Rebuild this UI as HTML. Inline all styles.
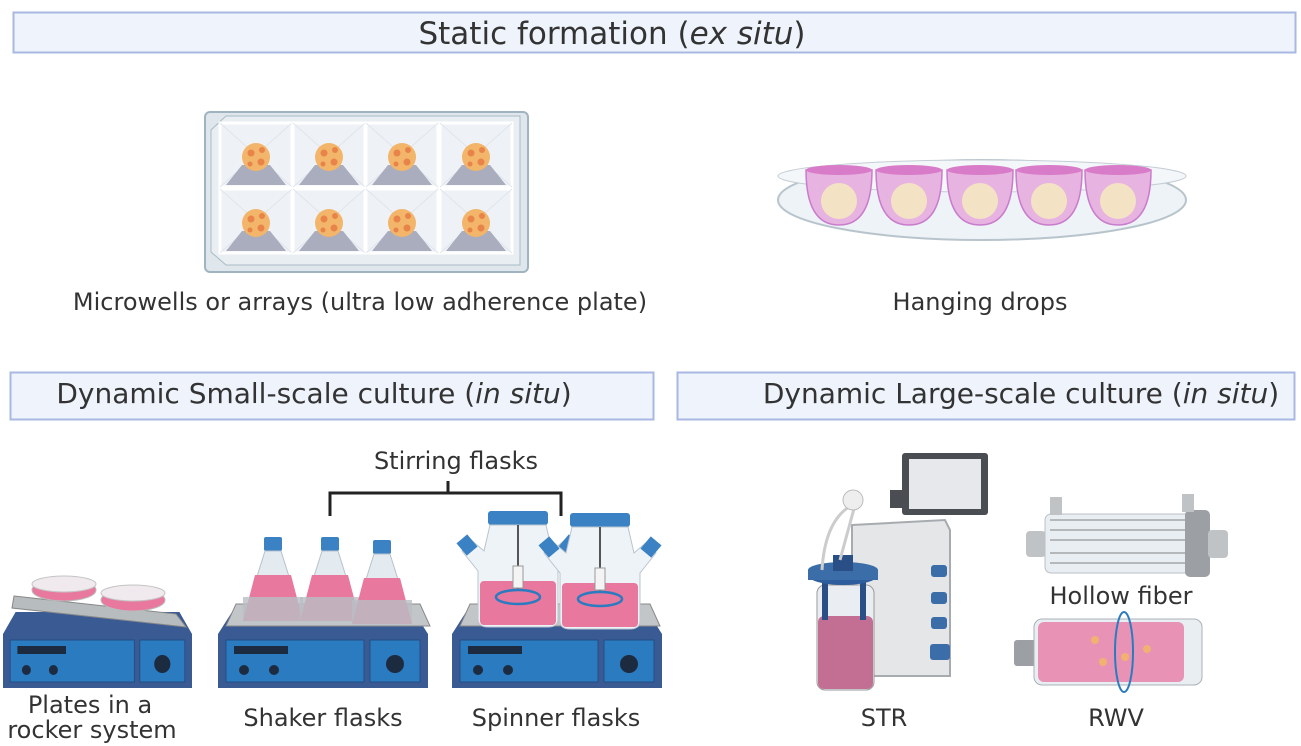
<!DOCTYPE html>
<html><head><meta charset="utf-8"><style>
html,body{margin:0;padding:0;background:#fff;}
svg{display:block;font-family:"DejaVu Sans","Liberation Sans",sans-serif;}
</style></head><body>
<svg width="1301" height="746" viewBox="0 0 1301 746" xmlns="http://www.w3.org/2000/svg">
<defs>
<g id="sph"><circle r="14" fill="#f2b56a"/><circle cx="-5" cy="-4" r="3.5" fill="#e8844a"/><circle cx="6" cy="-7" r="3" fill="#e8844a"/><circle cx="5" cy="5" r="3.5" fill="#e8844a"/><circle cx="-6" cy="7" r="2.5" fill="#e8844a"/></g>
<g id="well"><rect x="0" y="0" width="72" height="64" fill="#eef2f6" stroke="#fff" stroke-width="3"/><path d="M0 0 L36 32 L72 0 M0 64 L36 32 L72 64" stroke="#dfe5ec" fill="none"/><polygon points="6,62 66,62 50,42 22,42" fill="#a9adbd"/><use href="#sph" x="36" y="34"/></g>
<g id="hot">
<polygon points="14,0 196,0 210,22 0,22" fill="#3a5a94"/>
<rect x="0" y="22" width="210" height="54" fill="#3a5a94"/>
<rect x="8" y="28" width="138" height="42" fill="#2a7bbf" stroke="#244d85"/>
<rect x="152" y="28" width="50" height="42" fill="#2a7bbf" stroke="#244d85"/>
<rect x="16" y="34" width="54" height="8" fill="#1d2b40"/>
<circle cx="26" cy="58" r="5" fill="#1d2b40"/><circle cx="56" cy="58" r="5" fill="#1d2b40"/><circle cx="177" cy="52" r="9" fill="#1d2b40"/>
</g>
<g id="ef"><rect x="-9" y="0" width="18" height="14" rx="2" fill="#3a82c4"/><polygon points="-8,14 8,14 30,84 -30,84" fill="#e3eaf0" stroke="#b7c2cc"/><polygon points="-18,38 18,38 30,84 -30,84" fill="#e8789e"/><rect x="-30" y="60" width="60" height="24" fill="#b9bec4" opacity=".8"/></g>
<g id="sp"><rect x="-30" y="0" width="60" height="14" rx="3" fill="#3a82c4"/><path d="M-28 14 L28 14 L34 40 L48 28 L56 40 L40 60 L40 108 Q40 116 30 116 L-30 116 Q-40 116 -40 108 L-40 60 L-56 40 L-48 28 L-34 40 Z" fill="#eef3f8" stroke="#b9c4ce"/><rect x="-38" y="70" width="76" height="44" rx="4" fill="#e8789e"/><line x1="0" y1="14" x2="0" y2="80" stroke="#555" stroke-width="2"/><rect x="-5" y="55" width="10" height="22" fill="#f4f4f4" stroke="#999"/><ellipse cx="0" cy="86" rx="22" ry="7" fill="none" stroke="#2a7bbf" stroke-width="2.5"/><rect x="-58" y="26" width="14" height="16" fill="#3a82c4" transform="rotate(-40 -51 34)"/><rect x="44" y="26" width="14" height="16" fill="#3a82c4" transform="rotate(40 51 34)"/></g>
</defs>

<!-- headers -->
<rect x="13.5" y="12.5" width="1282" height="40" fill="#eef3fc" stroke="#a9b8e2" stroke-width="2"/>
<text x="612" y="44" font-size="31" fill="#333" text-anchor="middle">Static formation (<tspan font-style="italic">ex situ</tspan>)</text>
<rect x="10.5" y="372.5" width="643" height="47" fill="#eef3fc" stroke="#a9b8e2" stroke-width="2"/>
<text x="314" y="403" font-size="28" fill="#333" text-anchor="middle">Dynamic Small-scale culture (<tspan font-style="italic">in situ</tspan>)</text>
<rect x="677.5" y="372.5" width="617" height="47" fill="#eef3fc" stroke="#a9b8e2" stroke-width="2"/>
<text x="1021" y="403" font-size="28" fill="#333" text-anchor="middle">Dynamic Large-scale culture (<tspan font-style="italic">in situ</tspan>)</text>

<!-- microwell plate -->
<rect x="205" y="112" width="323" height="160" rx="5" fill="#dfe6ec" stroke="#9fb4c0" stroke-width="2"/>
<path d="M226 116 L520 116 L520 265 L226 265 L211 252 L211 130 Z" fill="#e8eef2" stroke="#a8bcc6"/>
<use href="#well" x="220" y="123"/><use href="#well" x="293" y="123"/><use href="#well" x="366" y="123"/><use href="#well" x="440" y="123"/>
<use href="#well" x="220" y="189"/><use href="#well" x="293" y="189"/><use href="#well" x="366" y="189"/><use href="#well" x="440" y="189"/>
<text x="360" y="310" font-size="24" fill="#333" text-anchor="middle">Microwells or arrays (ultra low adherence plate)</text>

<!-- hanging drops -->
<ellipse cx="982" cy="200" rx="204" ry="40" fill="#eef3f7" stroke="#b8c4cc" stroke-width="2"/>
<ellipse cx="982" cy="176" rx="204" ry="16" fill="#f4f7fa" stroke="#c4cdd4"/>
<g fill="#e7b3e0" stroke="#c97ccc" stroke-width="1.5">
<path d="M806 170 L872 170 Q872 225 839 225 Q806 225 806 170Z"/>
<path d="M876 170 L942 170 Q942 225 909 225 Q876 225 876 170Z"/>
<path d="M947 170 L1013 170 Q1013 225 980 225 Q947 225 947 170Z"/>
<path d="M1016 170 L1082 170 Q1082 225 1049 225 Q1016 225 1016 170Z"/>
<path d="M1085 170 L1151 170 Q1151 225 1118 225 Q1085 225 1085 170Z"/>
</g>
<g fill="#d87bc8"><ellipse cx="839" cy="170" rx="33" ry="5"/><ellipse cx="909" cy="170" rx="33" ry="5"/><ellipse cx="980" cy="170" rx="33" ry="5"/><ellipse cx="1049" cy="170" rx="33" ry="5"/><ellipse cx="1118" cy="170" rx="33" ry="5"/></g>
<g fill="#f3e3c4"><circle cx="839" cy="201" r="18"/><circle cx="909" cy="201" r="18"/><circle cx="980" cy="201" r="18"/><circle cx="1049" cy="201" r="18"/><circle cx="1118" cy="201" r="18"/></g>
<text x="980" y="310" font-size="24" fill="#333" text-anchor="middle">Hanging drops</text>

<!-- stirring bracket -->
<text x="456" y="469" font-size="24" fill="#333" text-anchor="middle">Stirring flasks</text>
<path d="M330 516 L330 493 L561 493 L561 516 M448 481 L448 493" stroke="#222" stroke-width="3" fill="none"/>

<!-- rocker -->
<use href="#hot" x="3" y="612" transform="translate(3 0) scale(0.9 1) translate(-3 0)"/>
<polygon points="14,596 176,614 186,627 12,608" fill="#b7bcbf" stroke="#888"/>
<ellipse cx="64" cy="590" rx="32" ry="11" fill="#e8789e" stroke="#bbb"/>
<ellipse cx="64" cy="584" rx="32" ry="8" fill="#f0e9ee" stroke="#c4c4c4"/>
<ellipse cx="133" cy="600" rx="32" ry="11" fill="#e8789e" stroke="#bbb"/>
<ellipse cx="133" cy="593" rx="32" ry="8" fill="#f0e9ee" stroke="#c4c4c4"/>
<text x="90" y="713" font-size="24" fill="#333" text-anchor="middle">Plates in a</text>
<text x="92" y="738" font-size="24" fill="#333" text-anchor="middle">rocker system</text>

<!-- shaker -->
<use href="#hot" x="218" y="612"/>
<polygon points="236,604 420,604 430,626 226,626" fill="#c3c6c8" stroke="#888"/>
<use href="#ef" x="273" y="537"/><use href="#ef" x="330" y="537"/><use href="#ef" x="382" y="540"/>
<text x="323" y="726" font-size="24" fill="#333" text-anchor="middle">Shaker flasks</text>

<!-- spinner -->
<use href="#hot" x="452" y="612"/>
<polygon points="470,604 650,604 660,626 460,626" fill="#c3c6c8" stroke="#888"/>
<use href="#sp" x="518" y="511"/><use href="#sp" x="600" y="513"/>
<text x="556" y="726" font-size="24" fill="#333" text-anchor="middle">Spinner flasks</text>

<!-- STR -->
<rect x="902" y="453" width="86" height="62" rx="3" fill="#4a4d52"/>
<rect x="909" y="459" width="72" height="50" fill="#e6e8eb"/>
<rect x="890" y="490" width="14" height="18" fill="#4a4d52"/>
<path d="M852 525 L945 520 L950 530 L950 676 L872 676 L852 650 Z" fill="#e4e6e8" stroke="#a7abaf" stroke-width="2"/>
<g fill="#3b6ea8"><rect x="931" y="565" width="16" height="12" rx="3"/><rect x="931" y="592" width="16" height="12" rx="3"/><rect x="931" y="617" width="16" height="12" rx="3"/><rect x="930" y="644" width="20" height="16" rx="3"/></g>
<rect x="817" y="585" width="57" height="105" rx="8" fill="#eaeef2" stroke="#999"/>
<rect x="818" y="616" width="55" height="73" rx="6" fill="#c36f93"/>
<g fill="#2a4f86"><rect x="822" y="580" width="6" height="40"/><rect x="860" y="580" width="6" height="40"/></g>
<ellipse cx="843" cy="575" rx="35" ry="10" fill="#2f5e9e"/>
<rect x="808" y="570" width="70" height="10" fill="#3b6ea8"/>
<ellipse cx="843" cy="570" rx="35" ry="8" fill="#3b6ea8"/>
<rect x="833" y="555" width="20" height="16" fill="#2a4f86"/>
<path d="M822 570 Q825 520 852 505 M840 560 L855 505" stroke="#ccc" stroke-width="3" fill="none"/>
<circle cx="853" cy="500" r="10" fill="#eee" stroke="#bbb"/>
<text x="884" y="726" font-size="24" fill="#333" text-anchor="middle">STR</text>

<!-- hollow fiber -->
<rect x="1026" y="531" width="20" height="26" rx="4" fill="#c0c3c6"/>
<rect x="1045" y="514" width="160" height="59" rx="6" fill="#e9eef2" stroke="#b9c0c6"/>
<g stroke="#b5b8bb" stroke-width="2"><line x1="1050" y1="520" x2="1200" y2="520"/><line x1="1050" y1="530" x2="1200" y2="530"/><line x1="1050" y1="540" x2="1200" y2="540"/><line x1="1050" y1="553" x2="1200" y2="553"/><line x1="1050" y1="563" x2="1200" y2="563"/></g>
<rect x="1185" y="510" width="25" height="67" rx="5" fill="#9c9fa3"/>
<rect x="1208" y="530" width="20" height="28" rx="4" fill="#c0c3c6"/>
<rect x="1050" y="497" width="12" height="18" fill="#c0c3c6"/><rect x="1182" y="494" width="12" height="18" fill="#c0c3c6"/>
<text x="1121" y="604" font-size="24" fill="#333" text-anchor="middle">Hollow fiber</text>

<!-- RWV -->
<rect x="1014" y="640" width="22" height="26" rx="3" fill="#9c9fa3"/>
<rect x="1034" y="619" width="168" height="66" rx="8" fill="#e9eef2" stroke="#aab2b8"/>
<rect x="1038" y="622" width="146" height="60" rx="6" fill="#e893b6"/>
<g fill="#f2b56a" opacity=".9"><circle cx="1095" cy="640" r="4"/><circle cx="1103" cy="662" r="4"/><circle cx="1125" cy="657" r="4"/><circle cx="1147" cy="649" r="4"/></g>
<ellipse cx="1124" cy="652" rx="9" ry="40" fill="none" stroke="#2a7bbf" stroke-width="2"/>
<text x="1116" y="726" font-size="24" fill="#333" text-anchor="middle">RWV</text>
</svg>
</body></html>
